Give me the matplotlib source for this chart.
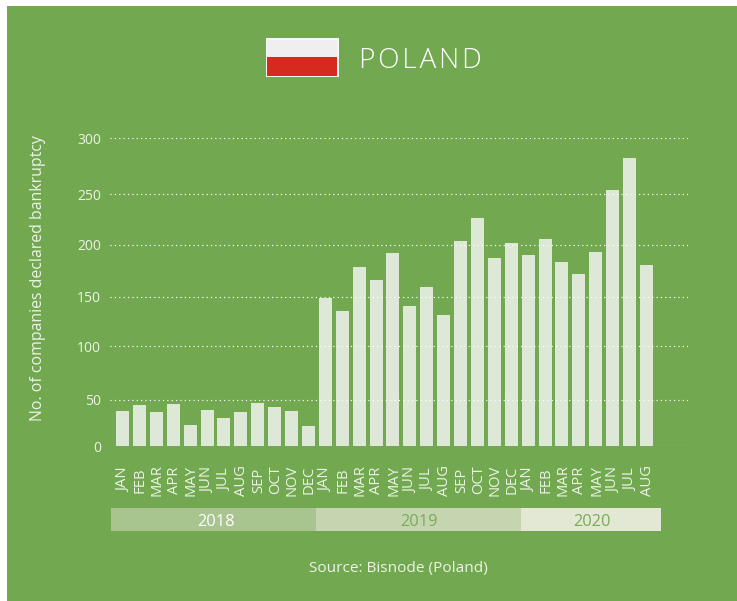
import numpy as np
import matplotlib
matplotlib.use("Agg")
import matplotlib.pyplot as plt
from matplotlib.patches import Rectangle

months = ["JAN", "FEB", "MAR", "APR", "MAY", "JUN", "JUL", "AUG", "SEP", "OCT", "NOV", "DEC",
          "JAN", "FEB", "MAR", "APR", "MAY", "JUN", "JUL", "AUG", "SEP", "OCT", "NOV", "DEC",
          "JAN", "FEB", "MAR", "APR", "MAY", "JUN", "JUL", "AUG"]
bankruptcies = [38, 44, 37, 45, 23, 39, 30, 37, 46, 42, 38, 22,
                149, 135, 179, 166, 192, 141, 159, 131, 204, 226, 187, 202,
                190, 206, 184, 172, 193, 254, 282, 181]
y_ticks = [0, 50, 100, 150, 200, 250, 300]
y_tick_heights = [0.0, 46.6, 100.3, 149.6, 201.3, 252.3, 308.0]
years = ["2018", "2019", "2020"]

GREEN = "#72A950"
BAR = "#DDE8D6"
TEXT = "#EDF3E8"
W, H = 737, 601

plt.rcParams["font.family"] = ["Open Sans", "DejaVu Sans"]
fig = plt.figure(figsize=(W / 100, H / 100), dpi=100, facecolor="white")

# Overlay in pixel coordinates for the panel, flag and year strip
page = fig.add_axes([0, 0, 1, 1], zorder=0)
page.set_xlim(0, W)
page.set_ylim(H, 0)
page.axis("off")
page.add_patch(Rectangle((7, 6), W - 7, H - 6, fc=GREEN, ec="none"))

# Flag
page.add_patch(Rectangle((266, 38), 73, 39, fc="#F7F7F7", ec="none"))
page.add_patch(Rectangle((267.5, 39.5), 70, 17.5, fc="#EFEFEF", ec="none"))
page.add_patch(Rectangle((267.5, 57), 70, 18.5, fc="#D52B1E", ec="none"))
page.text(359, 58, "P\u200aO\u200aL\u200aA\u200aN\u200aD", color="white", fontsize=20.2,
          fontweight="light", ha="left", va="center_baseline")

# Year strip
bands = [(111, 316, "#A9C58F", "white", 216), (316, 521, "#C5D5B0", "#79AC59", 419),
         (521, 661, "#E2E8D4", "#79AC59", 592)]
for label, (x0, x1, fc, tc, xc) in zip(years, bands):
    page.add_patch(Rectangle((x0, 508), x1 - x0, 23, fc=fc, ec="none"))
    page.text(xc, 520, label, color=tc, fontsize=11.8, ha="center", va="center_baseline")

page.text(398, 566.5, "Source: Bisnode (Poland)", color=TEXT, fontsize=11.05,
          ha="center", va="center_baseline")
page.text(38, 278, "No. of companies declared bankruptcy", color=TEXT, fontsize=11.4,
          rotation=90, ha="center", va="center")

# Chart axes: the printed gridlines are not evenly spaced, so the scale follows them
ax = fig.add_axes([110 / W, 1 - 446.3 / H, 578 / W, 308 / H], zorder=1)
ax.patch.set_alpha(0)


def forward(v):
    return np.interp(v, y_ticks, y_tick_heights)


def inverse(h):
    return np.interp(h, y_tick_heights, y_ticks)


ax.set_yscale("function", functions=(forward, inverse))
ax.set_ylim(0, 300)
ax.set_xlim(-0.74, 33.46)
positions = np.arange(len(months))
ax.bar(positions, bankruptcies, width=0.77, color=BAR, zorder=2)
ax.set_yticks(y_ticks)
ax.set_yticks([], minor=True)
ax.set_yticklabels([str(t) for t in y_ticks])
ax.grid(axis="y", color="white", linewidth=0.85, linestyle=(0, (1, 2.7)), zorder=3)
ax.set_axisbelow(False)
ax.set_xticks(positions + 0.05)
ax.set_xticklabels(months, rotation=90, ha="center", va="center")
ax.tick_params(axis="x", length=0, pad=24.3, labelsize=10.6, labelcolor=TEXT)
ax.tick_params(axis="y", length=0, pad=6.5, labelsize=10, labelcolor=TEXT)
for side in ax.spines.values():
    side.set_visible(False)

fig.savefig("out.png", dpi=100)
